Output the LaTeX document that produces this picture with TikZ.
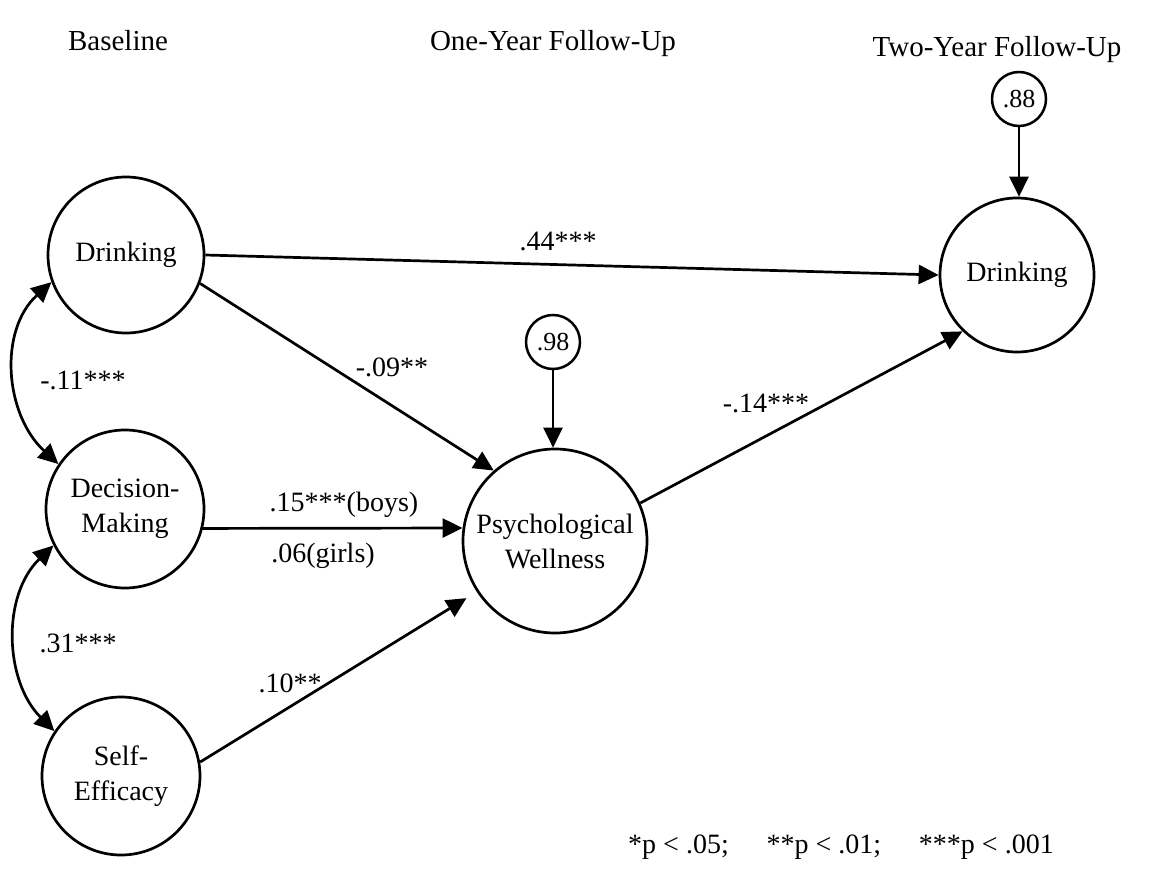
\documentclass[tikz,border=0pt]{standalone}
\usepackage{fontspec}
\setmainfont{Liberation Serif}
\usetikzlibrary{arrows.meta}
\begin{document}
\begin{tikzpicture}[x=1pt,y=-1pt,
  latent/.style={circle,draw,line width=2.7pt,inner sep=0pt,align=center,
    font=\fontsize{28}{35}\selectfont},
  resid/.style={circle,draw,line width=2.5pt,inner sep=0pt,minimum size=54pt,
    font=\fontsize{26}{30}\selectfont},
  effect/.style={line width=2.7pt,-{Triangle[length=20pt,width=19pt]}},
  covar/.style={line width=2.7pt,{Triangle[length=20pt,width=19pt]}-{Triangle[length=20pt,width=19pt]}},
  coef/.style={inner sep=0pt,font=\fontsize{28}{34}\selectfont},
  wave/.style={inner sep=0pt,font=\fontsize{29}{34}\selectfont}]
\fill[white] (0,0) rectangle (1156,875);
\useasboundingbox (0,0) rectangle (1156,875);

% wave headings
\node[wave] (hbase) at (118,41) {Baseline};
\node[wave] (hone)  at (553,44) {One-Year Follow-Up};
\node[wave] (htwo)  at (997,50) {Two-Year Follow-Up};

% latent variables
\node[latent,minimum size=156pt] (d1) at (126,255) {Drinking};
\node[latent,minimum size=158pt] (dm) at (125,509) {Decision-\\Making};
\node[latent,minimum size=158pt] (se) at (121,776) {Self-\\Efficacy};
\node[latent,minimum size=184pt] (pw) at (555,541) {Psychological\\Wellness};
\node[latent,minimum size=154pt] (d2) at (1017,275) {Drinking};

% residuals
\node[resid] (r98) at (553,342) {.98};
\node[resid] (r88) at (1019,99) {.88};

% structural paths
\draw[effect] (d1.east) -- (d2.west);
\draw[effect] (d1.-21) -- (pw.131);
\draw[effect] (dm.-14) -- (pw.172);
\draw[effect,shorten >=12pt] (se.10) -- (pw.213);
\draw[effect] (pw.24) -- (d2.226.5);
\draw[effect] (r98.south) -- (r98.south |- pw.north);
\draw[effect] (r88.south) -- (r88.south |- d2.north);

% correlations among baseline variables
\draw[covar] (d1.200) .. controls +(-53,48) and +(-54,-50) .. (dm.146);
\draw[covar] (dm.207) .. controls +(-52,50) and +(-50,-50) .. (se.146);

% coefficients
\node[coef] (c44) at (558,241) {.44***};
\node[coef] (c09) at (392,367) {-.09**};
\node[coef] (c15) at (344,505) {.15***(boys)};
\node[coef] (c06) at (323,556) {.06(girls)};
\node[coef] (c10) at (290,683) {.10**};
\node[coef] (c14) at (766,403) {-.14***};
\node[coef] (c11) at (83,380) {-.11***};
\node[coef] (c31) at (78,643) {.31***};

% significance levels
\node[coef] (note) at (841,847) {*p < .05;\hspace{1.1em} **p < .01;\hspace{1.1em} ***p < .001};
\end{tikzpicture}
\end{document}
